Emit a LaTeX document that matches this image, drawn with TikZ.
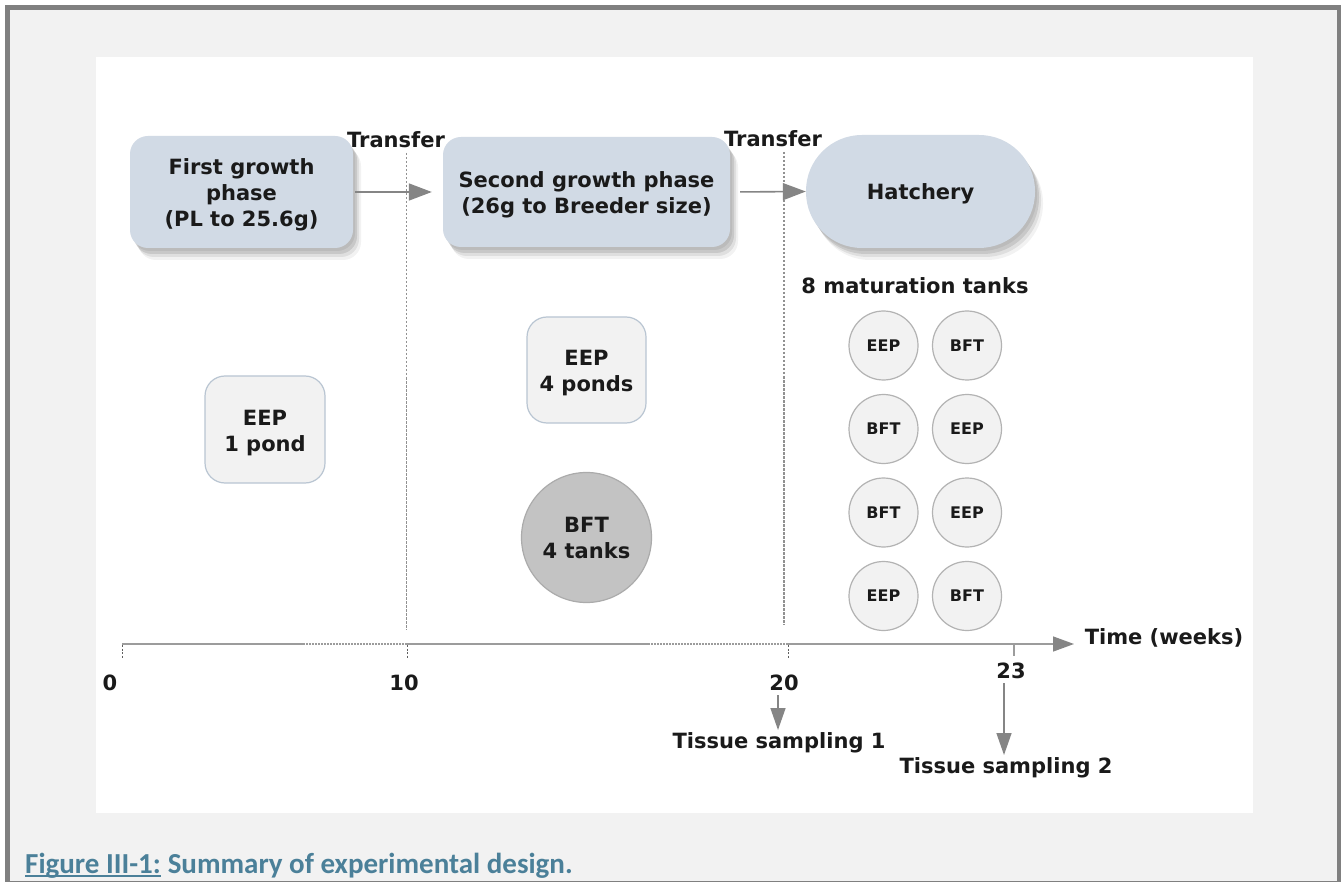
\documentclass[tikz,border=0pt]{standalone}
\usepackage{fontspec}
\setmainfont{DejaVu Sans}
\newfontfamily\captionfont{Carlito}
\usetikzlibrary{arrows.meta,shadows,calc}
\definecolor{ink}{HTML}{1A1A1A}
\definecolor{phase}{HTML}{D1DAE5}
\definecolor{pale}{HTML}{F2F2F2}
\definecolor{paleedge}{HTML}{B9C5D2}
\definecolor{tankedge}{HTML}{B3B3B3}
\definecolor{bftfill}{HTML}{C3C3C3}
\definecolor{bftedge}{HTML}{ABABAB}
\definecolor{flowgray}{HTML}{858585}
\definecolor{axisgray}{HTML}{9C9C9C}
\definecolor{framegray}{HTML}{808080}
\definecolor{panelgray}{HTML}{F2F2F2}
\definecolor{capteal}{HTML}{4B8099}

\begin{document}
\begin{tikzpicture}[x=1pt,y=-1pt,
  lbl/.style={font=\fontsize{21}{26}\selectfont\bfseries, text=ink, align=center, inner sep=0pt},
  small/.style={font=\fontsize{16}{18}\selectfont\bfseries, text=ink, inner sep=0pt},
  phasebox/.style={fill=phase, draw=none, rounded corners=18pt, inner sep=0pt,
    general shadow={fill=black, opacity=.06, shadow xshift=2pt, shadow yshift=-3pt},
    general shadow={fill=black, opacity=.10, shadow xshift=4pt, shadow yshift=-6pt},
    general shadow={fill=black, opacity=.08, shadow xshift=6pt, shadow yshift=-9pt},
    general shadow={fill=black, opacity=.05, shadow xshift=8pt, shadow yshift=-12pt}},
  pond/.style={fill=pale, draw=paleedge, line width=1.2pt, rounded corners=20pt, inner sep=0pt},
  tank/.style={small, circle, fill=pale, draw=tankedge, line width=1.2pt, minimum size=69pt},
  flow/.style={draw=flowgray, line width=1.6pt, -{Triangle[length=23pt,width=17pt]}},
  samp/.style={draw=flowgray, line width=1.4pt, -{Triangle[length=22pt,width=15pt]}},
  stage/.style={draw=flowgray!90, line width=1.1pt, dash pattern=on 2.5pt off 1.5pt},
  tickmark/.style={draw=ink!70, line width=1pt, dash pattern=on 2pt off 1.5pt},
  axisdots/.style={draw=axisgray, line width=1.2pt, dash pattern=on 1.5pt off 1.5pt},
  captext/.style={anchor=base west, inner sep=0pt, font=\fontsize{29}{32}\selectfont\captionfont\bfseries, text=capteal}
]
\useasboundingbox (0,0) rectangle (1341,882);

% page frame and white panel
\fill[white] (0,0) rectangle (1341,882);
\fill[panelgray] (7.5,7.5) rectangle (1339.5,883.5);
\draw[framegray, line width=5pt] (7.5,7.5) rectangle (1339.5,883.5);
\fill[white] (96,57) rectangle (1253,813);

% growth phases and hatchery
\node[phasebox, minimum width=223pt, minimum height=112pt] (grow1) at (241.5,192) {};
\node[phasebox, minimum width=287pt, minimum height=110pt] (grow2) at (586.5,192) {};
\node[phasebox, rounded corners=56pt, minimum width=229pt, minimum height=113pt] (hatch) at (920.5,191.5) {};
\node[lbl] (grow1txt) at ([yshift=-3pt]grow1.center) {First growth\\phase\\(PL to 25.6g)};
\node[lbl] (grow2txt) at ([yshift=-3pt]grow2.center) {Second growth phase\\(26g to Breeder size)};
\node[lbl] (hatchtxt) at ([yshift=-2.5pt]hatch.center) {Hatchery};

\node[lbl] (tr1) at (396,140) {Transfer};
\node[lbl] (tr2) at (773,139) {Transfer};

% stage boundaries
\coordinate (d1t) at (406.5,153);
\coordinate (d1b) at (406.5,630);
\coordinate (d2t) at (784,152);
\coordinate (d2b) at (784,625);
\draw[stage] (d1t) -- (d1b);
\draw[stage] (d2t) -- (d2b);

\draw[flow, shorten <=2pt, shorten >=11pt] (grow1.east) -- (grow2.west);
\draw[flow, shorten <=10pt] (grow2.east) -- (hatch.west);

% rearing units
\node[pond, minimum width=120pt, minimum height=107pt] (pond1) at (265,429.5) {};
\node[lbl] (pond1txt) at ([yshift=-3.5pt]pond1.center) {EEP\\1 pond};
\node[pond, minimum width=119pt, minimum height=106pt] (pond4) at (586.5,370) {};
\node[lbl] (pond4txt) at ([yshift=-3.5pt]pond4.center) {EEP\\4 ponds};
\node[lbl, circle, fill=bftfill, draw=bftedge, line width=1.2pt, minimum size=130pt] (bft4) at (586.5,537.5) {BFT\\4 tanks};

\node[lbl] (mat) at (915,286) {8 maturation tanks};
\foreach \r/\y/\a/\b in {1/345.5/EEP/BFT, 2/429/BFT/EEP, 3/512.5/BFT/EEP, 4/596/EEP/BFT}{
  \node[tank] (tank\r a) at (883.5,\y) {\a};
  \node[tank] (tank\r b) at (967,\y) {\b};
}

% time axis
\coordinate (ax0) at (122,644);
\coordinate (axend) at (1074,644);
\draw[axisgray, line width=1.4pt, -{Triangle[length=21pt,width=15pt,color=flowgray]}] (ax0) -- (axend);
\draw[white, line width=3pt] (303,644) -- (405,644);
\draw[white, line width=3pt] (648,644) -- (786,644);
\draw[axisdots] (303,644) -- (405,644);
\draw[axisdots] (648,644) -- (786,644);

\draw[tickmark] (122,645) -- (122,658);
\draw[tickmark] (407,645) -- (407,658);
\draw[tickmark] (788,645) -- (788,658);
\draw[axisgray, line width=1.2pt] (1014,645) -- (1014,656);

\node[lbl] (w0) at (110,683) {0};
\node[lbl] (w10) at (404,683) {10};
\node[lbl] (w20) at (784,683) {20};
\node[lbl] (w23) at (1011,671) {23};
\node[lbl] (tw) at (1164,638) {Time (weeks)};

% sampling points
\node[lbl] (ts1) at (779,743) {Tissue sampling 1};
\node[lbl] (ts2) at (1006,768) {Tissue sampling 2};
\coordinate (s1a) at (778,695);
\coordinate (s1b) at (778,730);
\coordinate (s2a) at (1004,683);
\coordinate (s2b) at (1004,755);
\draw[samp] (s1a) -- (s1b);
\draw[samp] (s2a) -- (s2b);

% caption
\node[captext] (cfig) at (25,873) {Figure III-1:};
\node[captext] (csum) at ([xshift=6.5pt]cfig.base east) {Summary of experimental design.};
\draw[capteal, line width=2pt] ($(cfig.base west)+(0,3)$) -- ($(cfig.base east)+(0,3)$);
\end{tikzpicture}
\end{document}
